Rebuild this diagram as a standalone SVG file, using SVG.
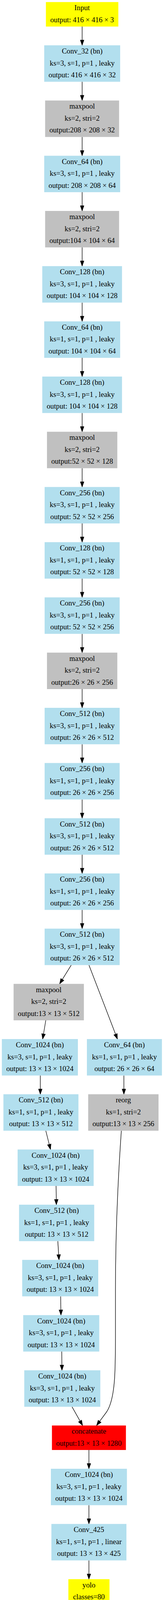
<svg xmlns="http://www.w3.org/2000/svg" width="419" height="4111" viewBox="0 0 419 4111">
<style>
.b{fill:#b2dfee}
.g{fill:#c0c0c0}
.y{fill:#ffff00}
.r{fill:#ff0000}
text{font-family:"Liberation Serif","Times New Roman",serif;font-size:18.67px;text-anchor:middle;fill:#000}
.e path,.e line{stroke:#000;stroke-width:1.33;fill:none;marker-end:url(#ah)}
</style>
<defs>
<marker id="ah" markerUnits="userSpaceOnUse" viewBox="0 0 14 10" refX="13.3" refY="5" markerWidth="14" markerHeight="10" orient="auto" overflow="visible">
<path d="M0,0.33 L13.3,5 L0,9.67 Z" fill="#000" stroke="#000" stroke-width="1"/>
</marker>
</defs>
<rect width="419" height="4111" fill="#fff"/>
<g class="e" id="connectors">
<line x1="209.85" y1="68" x2="209.85" y2="116"/>
<line x1="209.85" y1="209.33" x2="209.85" y2="257.3"/>
<line x1="209.85" y1="350.67" x2="209.85" y2="398.7"/>
<line x1="209.85" y1="492" x2="209.85" y2="540"/>
<line x1="209.85" y1="633.33" x2="209.85" y2="681.3"/>
<line x1="209.85" y1="774.67" x2="209.85" y2="822.7"/>
<line x1="209.85" y1="916" x2="209.85" y2="964"/>
<line x1="209.85" y1="1057.33" x2="209.85" y2="1105.3"/>
<line x1="209.85" y1="1198.67" x2="209.85" y2="1246.7"/>
<line x1="209.85" y1="1340" x2="209.85" y2="1388"/>
<line x1="209.85" y1="1481.33" x2="209.85" y2="1529.3"/>
<line x1="209.85" y1="1622.67" x2="209.85" y2="1670.7"/>
<line x1="209.85" y1="1764" x2="209.85" y2="1812"/>
<line x1="209.85" y1="1905.33" x2="209.85" y2="1953.3"/>
<line x1="209.85" y1="2046.67" x2="209.85" y2="2094.7"/>
<line x1="209.85" y1="2188" x2="209.85" y2="2236"/>
<line x1="209.85" y1="2329.33" x2="209.85" y2="2377.3"/>
<line x1="182" y1="2470.67" x2="152.3" y2="2518.7"/>
<line x1="227.3" y1="2470.67" x2="300" y2="2660"/>
<line x1="117" y1="2612" x2="109" y2="2660"/>
<line x1="103" y1="2753.33" x2="103" y2="2801.3"/>
<line x1="316.5" y1="2753.33" x2="316.5" y2="2801.3"/>
<line x1="117" y1="2894.67" x2="129" y2="2942.7"/>
<line x1="143.3" y1="3036" x2="144" y2="3084"/>
<line x1="147.7" y1="3177.33" x2="150.7" y2="3225.3"/>
<line x1="155" y1="3318.67" x2="155.7" y2="3366.7"/>
<line x1="157.7" y1="3460" x2="158.3" y2="3508"/>
<line x1="184" y1="3601.33" x2="211" y2="3649.3"/>
<path d="M310,2894.67 C302,3010 295,3150 295,3300 L295,3400 C295,3500 296,3580 272,3615 L246.7,3649.3"/>
<line x1="227.2" y1="3712" x2="227.2" y2="3760"/>
<line x1="227.2" y1="3853.33" x2="227.2" y2="3901.3"/>
<line x1="227.2" y1="3994.67" x2="227.2" y2="4042.7"/>
</g>
<g id="n0"><rect class="y" x="117.3" y="5.3" width="185" height="62.67"/><text x="209.8" y="26.3">Input</text><text x="209.8" y="56.8">output: 416 × 416 × 3</text></g>
<g id="n1"><rect class="b" x="113" y="116" width="194" height="93.33"/><text x="210" y="137">Conv_32 (bn)</text><text x="210" y="167.5">ks=3, s=1, p=1 , leaky</text><text x="210" y="198">output: 416 × 416 × 32</text></g>
<g id="n2"><rect class="g" x="115.3" y="257.3" width="189" height="93.33"/><text x="209.8" y="278.3">maxpool</text><text x="209.8" y="308.8">ks=2, stri=2</text><text x="209.8" y="339.3">output:208 × 208 × 32</text></g>
<g id="n3"><rect class="b" x="113" y="398.7" width="194" height="93.33"/><text x="210" y="419.7">Conv_64 (bn)</text><text x="210" y="450.2">ks=3, s=1, p=1 , leaky</text><text x="210" y="480.7">output: 208 × 208 × 64</text></g>
<g id="n4"><rect class="g" x="115.3" y="540" width="189" height="93.33"/><text x="209.8" y="561">maxpool</text><text x="209.8" y="591.5">ks=2, stri=2</text><text x="209.8" y="622">output:104 × 104 × 64</text></g>
<g id="n5"><rect class="b" x="108" y="681.3" width="203.7" height="93.33"/><text x="209.85" y="702.3">Conv_128 (bn)</text><text x="209.85" y="732.8">ks=3, s=1, p=1 , leaky</text><text x="209.85" y="763.3">output: 104 × 104 × 128</text></g>
<g id="n6"><rect class="b" x="113" y="822.7" width="194" height="93.33"/><text x="210" y="843.7">Conv_64 (bn)</text><text x="210" y="874.2">ks=1, s=1, p=1 , leaky</text><text x="210" y="904.7">output: 104 × 104 × 64</text></g>
<g id="n7"><rect class="b" x="108" y="964" width="203.7" height="93.33"/><text x="209.85" y="985">Conv_128 (bn)</text><text x="209.85" y="1015.5">ks=3, s=1, p=1 , leaky</text><text x="209.85" y="1046">output: 104 × 104 × 128</text></g>
<g id="n8"><rect class="g" x="120" y="1105.3" width="179.7" height="93.33"/><text x="209.85" y="1126.3">maxpool</text><text x="209.85" y="1156.8">ks=2, stri=2</text><text x="209.85" y="1187.3">output:52 × 52 × 128</text></g>
<g id="n9"><rect class="b" x="114" y="1246.7" width="191.7" height="93.33"/><text x="209.85" y="1267.7">Conv_256 (bn)</text><text x="209.85" y="1298.2">ks=3, s=1, p=1 , leaky</text><text x="209.85" y="1328.7">output: 52 × 52 × 256</text></g>
<g id="n10"><rect class="b" x="114" y="1388" width="191.7" height="93.33"/><text x="209.85" y="1409">Conv_128 (bn)</text><text x="209.85" y="1439.5">ks=1, s=1, p=1 , leaky</text><text x="209.85" y="1470">output: 52 × 52 × 128</text></g>
<g id="n11"><rect class="b" x="114" y="1529.3" width="191.7" height="93.33"/><text x="209.85" y="1550.3">Conv_256 (bn)</text><text x="209.85" y="1580.8">ks=3, s=1, p=1 , leaky</text><text x="209.85" y="1611.3">output: 52 × 52 × 256</text></g>
<g id="n12"><rect class="g" x="120" y="1670.7" width="179.7" height="93.33"/><text x="209.85" y="1691.7">maxpool</text><text x="209.85" y="1722.2">ks=2, stri=2</text><text x="209.85" y="1752.7">output:26 × 26 × 256</text></g>
<g id="n13"><rect class="b" x="114" y="1812" width="191.7" height="93.33"/><text x="209.85" y="1833">Conv_512 (bn)</text><text x="209.85" y="1863.5">ks=3, s=1, p=1 , leaky</text><text x="209.85" y="1894">output: 26 × 26 × 512</text></g>
<g id="n14"><rect class="b" x="114" y="1953.3" width="191.7" height="93.33"/><text x="209.85" y="1974.3">Conv_256 (bn)</text><text x="209.85" y="2004.8">ks=1, s=1, p=1 , leaky</text><text x="209.85" y="2035.3">output: 26 × 26 × 256</text></g>
<g id="n15"><rect class="b" x="114" y="2094.7" width="191.7" height="93.33"/><text x="209.85" y="2115.7">Conv_512 (bn)</text><text x="209.85" y="2146.2">ks=3, s=1, p=1 , leaky</text><text x="209.85" y="2176.7">output: 26 × 26 × 512</text></g>
<g id="n16"><rect class="b" x="114" y="2236" width="191.7" height="93.33"/><text x="209.85" y="2257">Conv_256 (bn)</text><text x="209.85" y="2287.5">ks=1, s=1, p=1 , leaky</text><text x="209.85" y="2318">output: 26 × 26 × 256</text></g>
<g id="n17"><rect class="b" x="114" y="2377.3" width="191.7" height="93.33"/><text x="209.85" y="2398.3">Conv_512 (bn)</text><text x="209.85" y="2428.8">ks=3, s=1, p=1 , leaky</text><text x="209.85" y="2459.3">output: 26 × 26 × 512</text></g>
<g id="n18"><rect class="g" x="34.7" y="2518.7" width="179.6" height="93.33"/><text x="124.5" y="2539.7">maxpool</text><text x="124.5" y="2570.2">ks=2, stri=2</text><text x="124.5" y="2600.7">output:13 × 13 × 512</text></g>
<g id="n19"><rect class="b" x="4.7" y="2660" width="194.3" height="93.33"/><text x="101.85" y="2681">Conv_1024 (bn)</text><text x="101.85" y="2711.5">ks=3, s=1, p=1 , leaky</text><text x="101.85" y="2742">output: 13 × 13 × 1024</text></g>
<g id="n20"><rect class="b" x="222" y="2660" width="191.7" height="93.33"/><text x="317.85" y="2681">Conv_64 (bn)</text><text x="317.85" y="2711.5">ks=1, s=1, p=1 , leaky</text><text x="317.85" y="2742">output: 26 × 26 × 64</text></g>
<g id="n21"><rect class="b" x="8.7" y="2801.3" width="191.7" height="93.33"/><text x="104.55" y="2822.3">Conv_512 (bn)</text><text x="104.55" y="2852.8">ks=1, s=1, p=1 , leaky</text><text x="104.55" y="2883.3">output: 13 × 13 × 512</text></g>
<g id="n22"><rect class="g" x="225.3" y="2801.3" width="179.7" height="93.33"/><text x="315.15" y="2822.3">reorg</text><text x="315.15" y="2852.8">ks=1, stri=2</text><text x="315.15" y="2883.3">output:13 × 13 × 256</text></g>
<g id="n23"><rect class="b" x="45" y="2942.7" width="194.3" height="93.33"/><text x="142.15" y="2963.7">Conv_1024 (bn)</text><text x="142.15" y="2994.2">ks=3, s=1, p=1 , leaky</text><text x="142.15" y="3024.7">output: 13 × 13 × 1024</text></g>
<g id="n24"><rect class="b" x="48.7" y="3084" width="192" height="93.33"/><text x="144.7" y="3105">Conv_512 (bn)</text><text x="144.7" y="3135.5">ks=1, s=1, p=1 , leaky</text><text x="144.7" y="3166">output: 13 × 13 × 512</text></g>
<g id="n25"><rect class="b" x="56.7" y="3225.3" width="194.3" height="93.33"/><text x="153.85" y="3246.3">Conv_1024 (bn)</text><text x="153.85" y="3276.8">ks=3, s=1, p=1 , leaky</text><text x="153.85" y="3307.3">output: 13 × 13 × 1024</text></g>
<g id="n26"><rect class="b" x="59.3" y="3366.7" width="194.3" height="93.33"/><text x="156.45" y="3387.7">Conv_1024 (bn)</text><text x="156.45" y="3418.2">ks=3, s=1, p=1 , leaky</text><text x="156.45" y="3448.7">output: 13 × 13 × 1024</text></g>
<g id="n27"><rect class="b" x="62" y="3508" width="194.3" height="93.33"/><text x="159.15" y="3529">Conv_1024 (bn)</text><text x="159.15" y="3559.5">ks=3, s=1, p=1 , leaky</text><text x="159.15" y="3590">output: 13 × 13 × 1024</text></g>
<g id="n28"><rect class="r" x="132.7" y="3649.3" width="189" height="62.67"/><text x="227.2" y="3670.3">concatenate</text><text x="227.2" y="3700.8">output:13 × 13 × 1280</text></g>
<g id="n29"><rect class="b" x="130" y="3760" width="194.3" height="93.33"/><text x="227.15" y="3781">Conv_1024 (bn)</text><text x="227.15" y="3811.5">ks=3, s=1, p=1 , leaky</text><text x="227.15" y="3842">output: 13 × 13 × 1024</text></g>
<g id="n30"><rect class="b" x="131.3" y="3901.3" width="191.7" height="93.33"/><text x="227.15" y="3922.3">Conv_425</text><text x="227.15" y="3952.8">ks=1, s=1, p=1 , linear</text><text x="227.15" y="3983.3">output: 13 × 13 × 425</text></g>
<g id="n31"><rect class="y" x="174.7" y="4042.7" width="105" height="62.67"/><text x="227.2" y="4063.5">yolo</text><text x="227.2" y="4093.5">classes=80</text></g>
</svg>
